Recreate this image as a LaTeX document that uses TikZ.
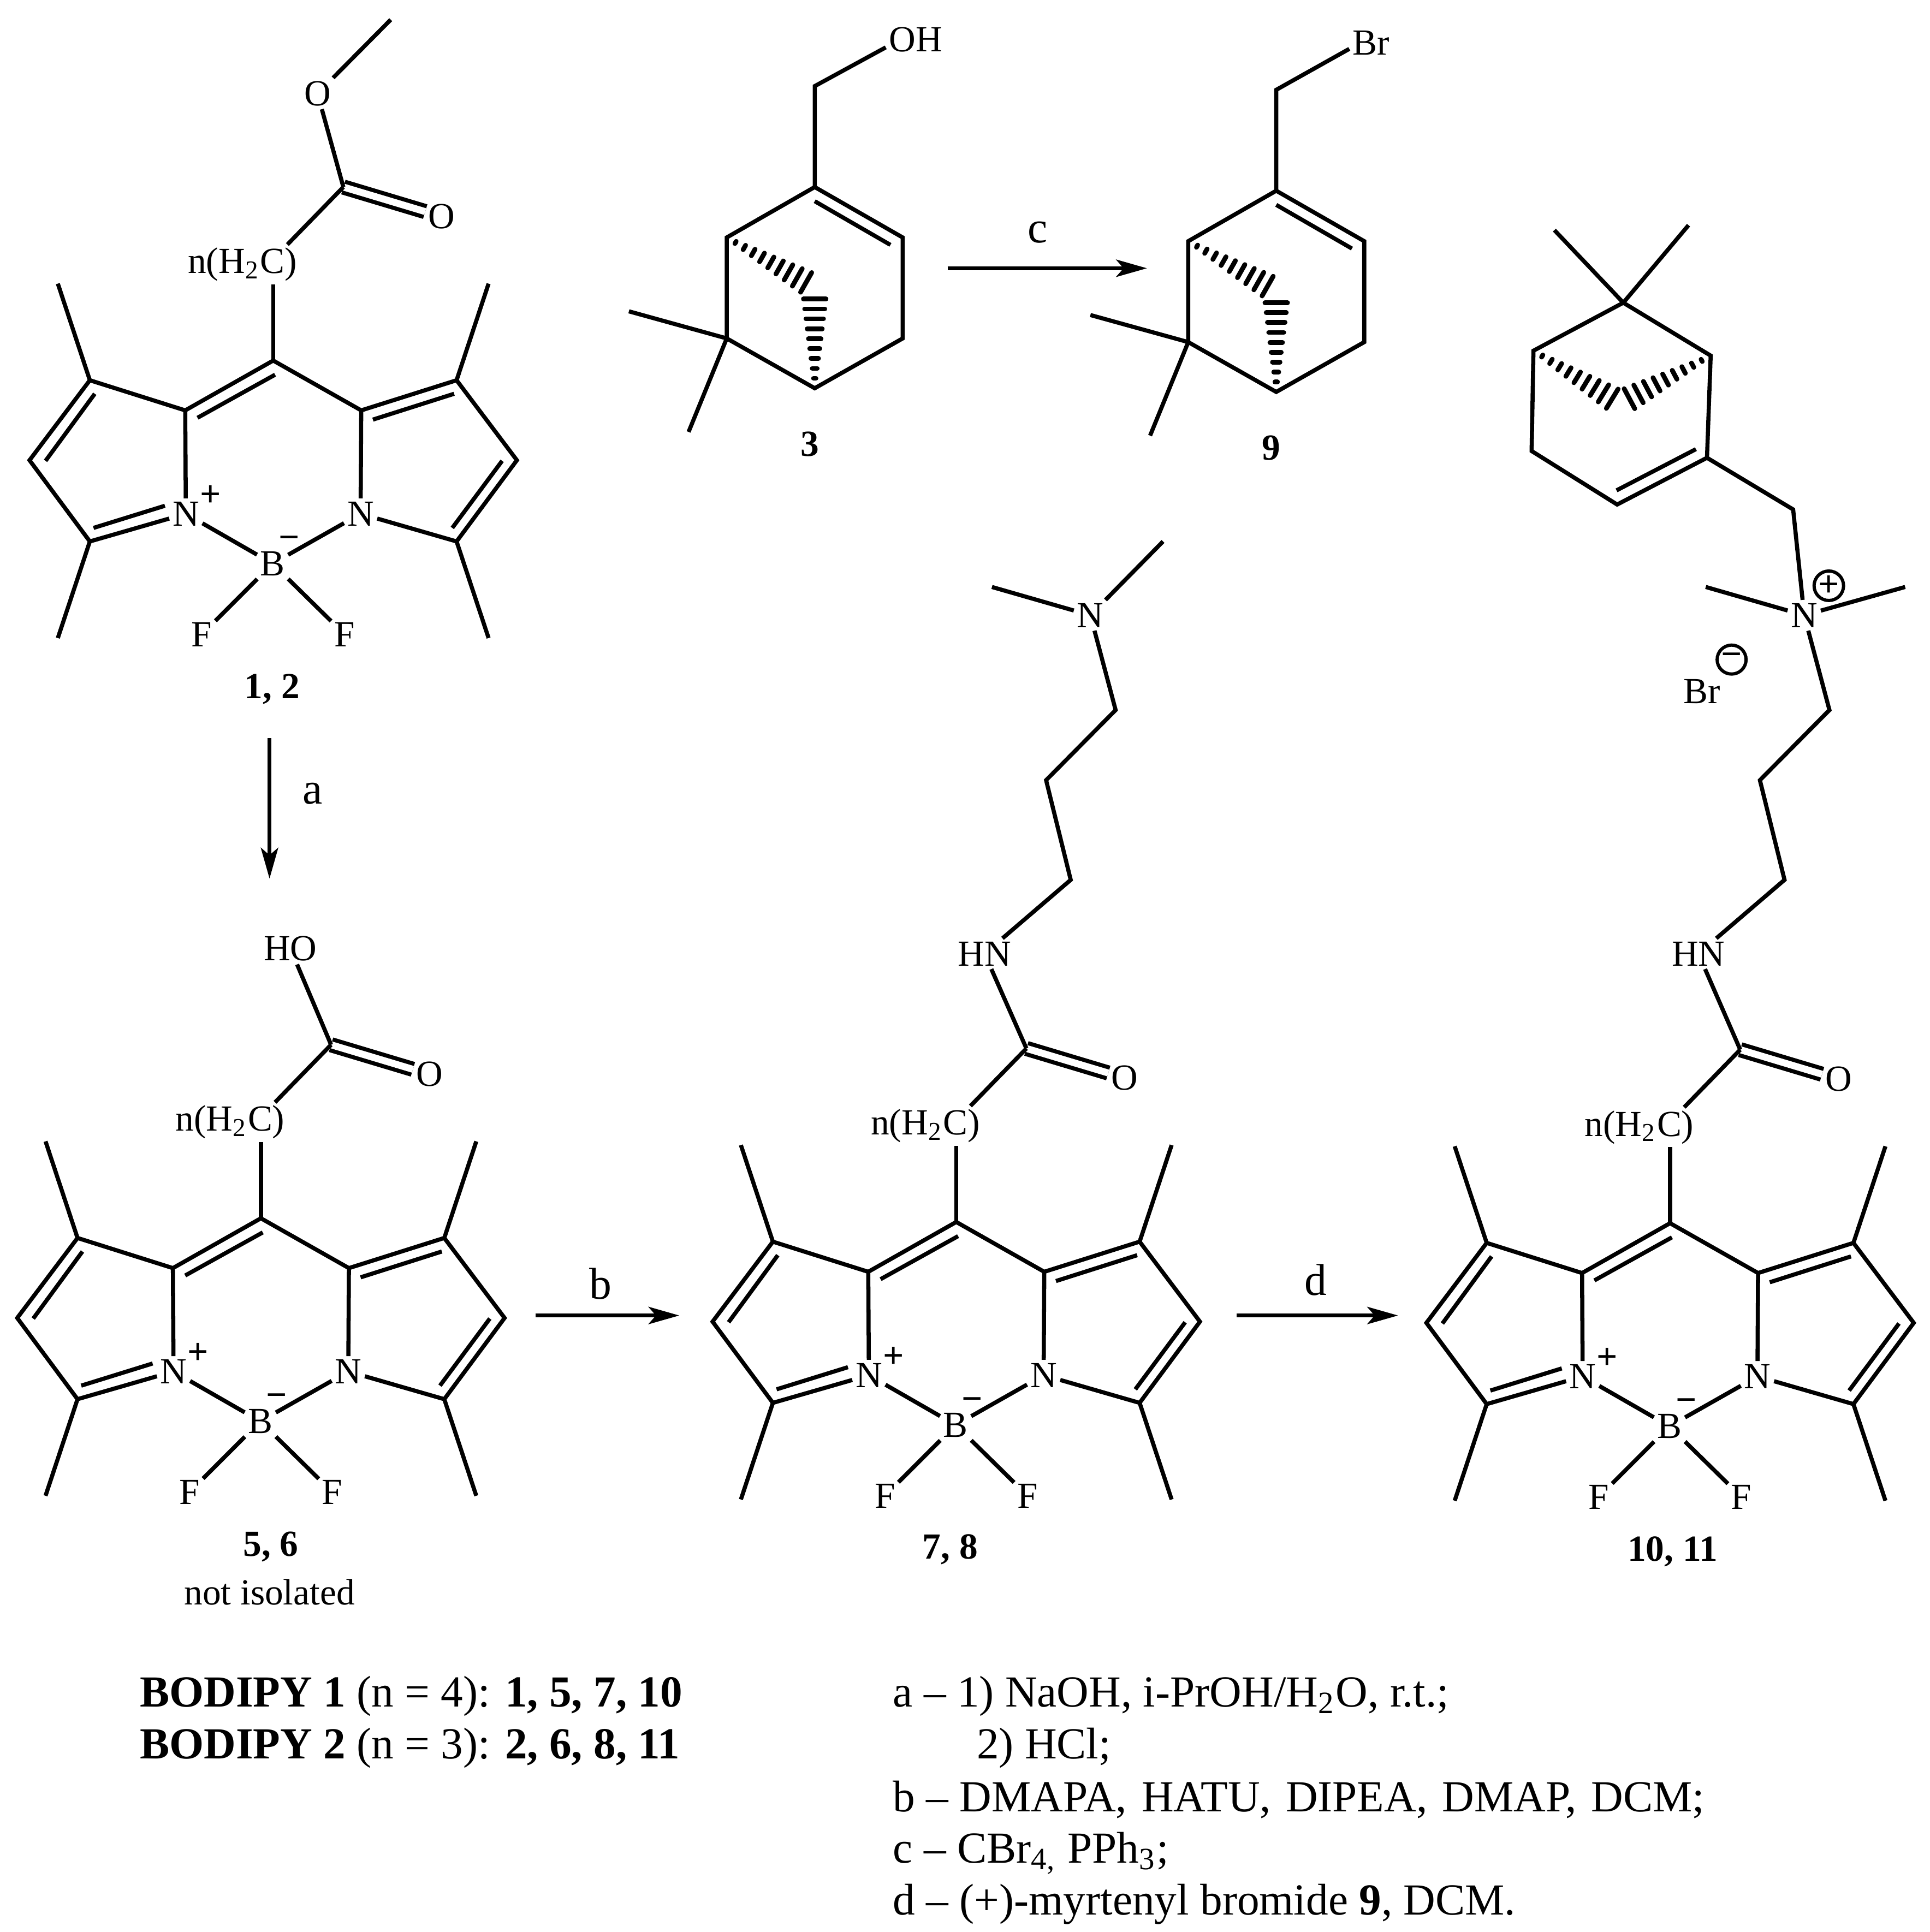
\documentclass[tikz,border=0pt]{standalone}
\usepackage{fontspec}
\setmainfont{Liberation Serif}
\usetikzlibrary{arrows.meta, calc}

% hashed wedge, narrow at #1, wide at #2
\newcommand{\hashbond}[2]{
    \foreach \k in {1,...,9} {
        \coordinate (hm) at ($(#1)!\k/9!(#2)$);
        \draw[hash] ($(hm)!{\k*0.0102cm}!90:(#1)$) -- ($(hm)!{\k*0.0102cm}!-90:(#1)$);
    }
}

\begin{document}
\begin{tikzpicture}[
    x=0.01cm, y=-0.01cm,
    bond/.style={line width=0.95pt},
    dblbond/.style={bond,double,double distance=1.6pt},
    hash/.style={line width=1.1pt,line cap=round},
    react/.style={line width=0.95pt,-{Stealth[length=0.25cm,width=0.14cm,inset=0.06cm]}},
    atom/.style={font=\fontsize{8.5}{10}\selectfont,inner sep=0.02cm},
    chg/.style={atom,inner sep=0pt,font=\fontsize{8.5}{10}\selectfont\bfseries},
    ring/.style={draw,circle,line width=0.75pt,inner sep=0pt,minimum size=0.235cm,font=\fontsize{8.5}{10}\selectfont\bfseries},
    cmpd/.style={atom,font=\fontsize{8.5}{10}\selectfont\bfseries},
    step label/.style={inner sep=0.02cm,font=\fontsize{10.3}{12}\selectfont},
    note/.style={anchor=base west,inner sep=0pt,font=\fontsize{10.25}{12}\selectfont}
]
\useasboundingbox (0,0) rectangle (1568,1570);

% =========================
% BODIPY CORES
% =========================
\foreach \c/\x/\y in {A/222/293,B/212/990,C/777/993,D/1357/994} {
\begin{scope}[shift={(\x,\y)}]
    \coordinate (\c-0) at (0,0);

    % ring carbons, left then right
    \foreach \n/\s in {1/-1,2/1} {
        \coordinate (\c-a\n) at ({\s*71.5},40.5);
        \coordinate (\c-b\n) at ({\s*149},16);
        \coordinate (\c-m\n) at ({\s*198},81);
        \coordinate (\c-g\n) at ({\s*149},147);
        \coordinate (\c-u\n) at ({\s*175},-62.5);
        \coordinate (\c-v\n) at ({\s*175},225.5);
    }

    % atoms
    \node[atom] (\c-Np) at (-71,124.5) {N};
    \node[atom] (\c-Nn) at (71,124.5) {N};
    \node[atom] (\c-Bo) at (-0.5,165) {B};
    \node[atom] (\c-F1) at (-58,222.5) {F};
    \node[atom] (\c-F2) at (58,222.5) {F};
    \node[chg] (\c-pl) at (-51,110) {+};
    \node[chg] (\c-mi) at (13,148) {\raisebox{-0.2em}{−}};

    % inner lines of the double bonds
    \foreach \i/\p/\q in {1/-145/27,2/-185/81.5,3/-146/136,4/-88/118,5/-61.5/46.5,6/1.5/11.5,7/81/48,8/147/27,9/186/81.5,10/145.5/136}
        \coordinate (\c-i\i) at (\p,\q);
    \foreach \i/\j in {1/2,3/4,5/6,7/8,9/10}
        \draw[bond] (\c-i\i) -- (\c-i\j);

    % rings
    \draw[bond] (\c-Np) -- (\c-a1) -- (\c-0) -- (\c-a2) -- (\c-Nn) -- (\c-Bo) -- (\c-Np);
    \draw[bond] (\c-Np) -- (\c-g1) -- (\c-m1) -- (\c-b1) -- (\c-a1);
    \draw[bond] (\c-Nn) -- (\c-g2) -- (\c-m2) -- (\c-b2) -- (\c-a2);
    \foreach \n in {1,2} {
        \draw[bond] (\c-b\n) -- (\c-u\n);
        \draw[bond] (\c-g\n) -- (\c-v\n);
        \draw[bond] (\c-Bo) -- (\c-F\n);
    }

    % tail up to the carbonyl
    \coordinate (\c-co) at (57,-141);
    \node[atom] (\c-ch) at (-25,-78) {n(H\textsubscript{2}C)};
    \node[atom] (\c-ox) at (137,-117) {O};
    \draw[dblbond] (\c-co) -- (\c-ox);
    \draw[bond] (\c-0) -- (\c-0 |- \c-ch.south);
    \draw[bond] (\c-ch.24) -- (\c-co);
\end{scope}
}

% ester of 1, 2
\node[atom] (A-oe) at (258,76) {O};
\coordinate (A-me) at (317.5,16);
\draw[bond] (A-co) -- (A-oe) -- (A-me);

% acid of 5, 6
\node[atom] (B-oh) at (236,771) {HO};
\draw[bond] (B-co) -- (B-oh);

% amine chains of 7, 8 and 10, 11
\foreach \c/\x/\y in {C/775/992,D/1355/992} {
\begin{scope}[shift={(\x,\y)}]
    \node[atom] (\c-hn) at (25,-217) {HN};
    \coordinate (\c-l1) at (95,-277);
    \coordinate (\c-l2) at (75,-358);
    \coordinate (\c-l3) at (131.5,-415);
    \node[atom] (\c-am) at (111,-492) {N};
    \coordinate (\c-m3) at (31,-515);
    \draw[bond] (\c-co) -- (\c-hn) -- (\c-l1) -- (\c-l2) -- (\c-l3) -- (\c-am);
    \draw[bond] (\c-am) -- (\c-m3);
\end{scope}
}
\coordinate (C-m4) at (945,440);
\draw[bond] (C-am) -- (C-m4);
\coordinate (D-m4) at (1548,477);
\draw[bond] (D-am) -- (D-m4);

% =========================
% PINENES 3 AND 9
% =========================
\foreach \p/\x/\y/\sub/\sx/\lab in {P/662/152/OH/82/3,Q/1037/155/Br/77/9} {
\begin{scope}[shift={(\x,\y)}]
    \coordinate (\p-1) at (0,0);
    \coordinate (\p-2) at (71.5,41);
    \coordinate (\p-3) at (71.5,123);
    \coordinate (\p-4) at (0,163.5);
    \coordinate (\p-5) at (-71.5,123);
    \coordinate (\p-6) at (-71.5,41);
    \coordinate (\p-7) at (0,-82);
    \coordinate (\p-u) at (-151,101);
    \coordinate (\p-v) at (-102.5,199);
    \coordinate (\p-i1) at (0,11.5);
    \coordinate (\p-i2) at (61.5,47);
    \coordinate (\p-h1) at (-7,77.5);
    \coordinate (\p-h2) at (0,91);
    \node[atom] (\p-x) at (\sx,-120) {\sub};
    \node[cmpd] (\p-lab) at (-4,209) {\lab};

    \draw[bond] (\p-1) -- (\p-2) -- (\p-3) -- (\p-4) -- (\p-5) -- (\p-6) -- cycle;
    \draw[bond] (\p-i1) -- (\p-i2);
    \draw[bond] (\p-1) -- (\p-7) -- (\p-x.195);
    \draw[bond] (\p-5) -- (\p-u);
    \draw[bond] (\p-5) -- (\p-v);
    \hashbond{\p-6}{\p-h1}
    \hashbond{\p-4}{\p-h2}
\end{scope}
}

% =========================
% MYRTENYL OF 10, 11
% =========================
\coordinate (R-1) at (1387,372);
\coordinate (R-2) at (1314,410);
\coordinate (R-3) at (1244.5,366.5);
\coordinate (R-4) at (1246,285);
\coordinate (R-5) at (1319,246);
\coordinate (R-6) at (1390,289);
\coordinate (R-7) at (1457,414);
\coordinate (R-u) at (1263,187);
\coordinate (R-v) at (1372,183);
\coordinate (R-i1) at (1313.5,398.5);
\coordinate (R-i2) at (1378,365);
\coordinate (R-h1) at (1310,324);
\coordinate (R-h2) at (1324,324);

\draw[bond] (R-1) -- (R-2) -- (R-3) -- (R-4) -- (R-5) -- (R-6) -- cycle;
\draw[bond] (R-i1) -- (R-i2);
\draw[bond] (R-5) -- (R-u);
\draw[bond] (R-5) -- (R-v);
\draw[bond] (R-1) -- (R-7) -- (D-am);
\hashbond{R-4}{R-h1}
\hashbond{R-6}{R-h2}

\node[ring] (D-plus) at (1486,476) {+};
\node[atom] (D-br) at (1383,562) {Br};
\node[ring] (D-minus) at (1407,536) {\raisebox{-0.2em}{−}};

% =========================
% ARROWS
% =========================
\coordinate (a1) at (219,600);
\coordinate (a2) at (219,714);
\draw[react] (a1) -- (a2);
\node[step label] (al) at (254,645) {a};

\coordinate (b1) at (435,1069);
\coordinate (b2) at (552,1069);
\draw[react] (b1) -- (b2);
\node[step label] (bl) at (488,1043) {b};

\coordinate (c1) at (770,218);
\coordinate (c2) at (932,218);
\draw[react] (c1) -- (c2);
\node[step label] (cl) at (843,189) {c};

\coordinate (d1) at (1005,1069);
\coordinate (d2) at (1136,1069);
\draw[react] (d1) -- (d2);
\node[step label] (dl) at (1069,1040) {d};

% =========================
% COMPOUND NUMBERS
% =========================
\node[cmpd] (n12) at (221,560) {1, 2};
\node[cmpd] (n56) at (220,1257) {5, 6};
\node[atom] (niso) at (219,1294) {not isolated};
\node[cmpd] (n78) at (772,1259) {7, 8};
\node[cmpd] (n1011) at (1359,1261) {10, 11};

% =========================
% LEGEND AND CONDITIONS
% =========================
\node[note] (leg1) at (113,1387) {\textbf{BODIPY 1} (n = 4): \textbf{1, 5, 7, 10}};
\node[note] (leg2) at (113,1429) {\textbf{BODIPY 2} (n = 3): \textbf{2, 6, 8, 11}};

\node[note] (rea) at (725,1387) {a – 1) NaOH, i-PrOH/H\textsubscript{2}O, r.t.;};
\node[note] (rea2) at (793,1429) {2) HCl;};
\node[note] (reb) at (725,1472) {b – DMAPA,\hspace{0.03cm} HATU,\hspace{0.03cm} DIPEA,\hspace{0.03cm} DMAP,\hspace{0.03cm} DCM;};
\node[note] (rec) at (725,1514) {c – CBr\textsubscript{4,} PPh\textsubscript{3};};
\node[note] (red) at (725,1556) {d – (+)-myrtenyl bromide \textbf{9}, DCM.};
\end{tikzpicture}
\end{document}
